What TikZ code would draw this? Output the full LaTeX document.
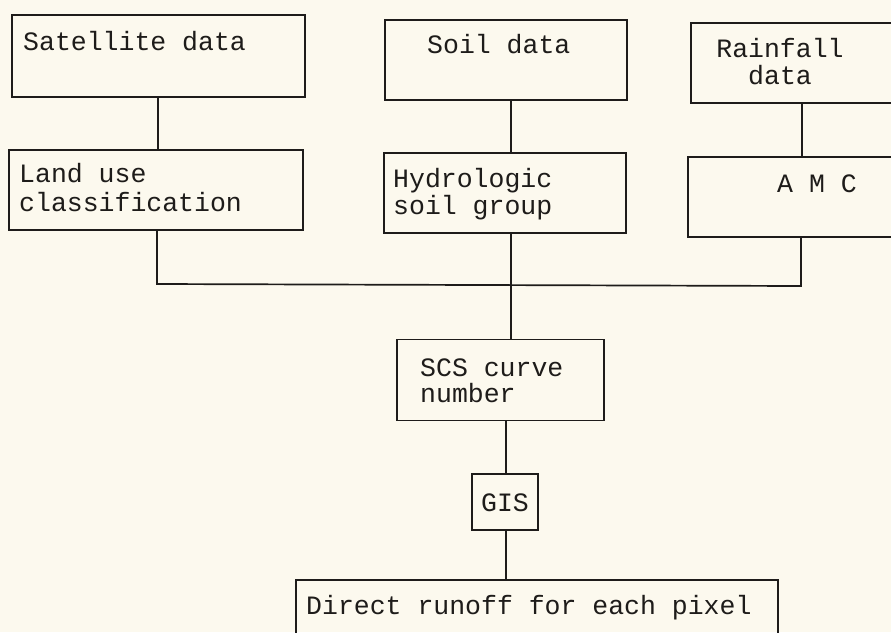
\documentclass[tikz,border=0pt]{standalone}
\usepackage{fontspec}
\setmonofont{Liberation Mono}
\definecolor{paper}{RGB}{252,249,238}
\definecolor{ink}{RGB}{30,28,26}
\begin{document}
\begin{tikzpicture}[x=1pt,y=-1pt,
  box/.style={draw=ink,line width=1.7pt,rectangle,inner sep=0pt},
  txt/.style={font=\fontsize{26.5}{30}\selectfont\ttfamily,text=ink,inner sep=0pt},
  conn/.style={draw=ink,line width=1.7pt}]
\clip (0,0) rectangle (891,632);
\fill[paper] (0,0) rectangle (891,632);
% boxes
\node[box,minimum width=293pt,minimum height=82pt] (sat) at (158.5,56) {};
\node[box,minimum width=242pt,minimum height=80pt] (soil) at (506,60) {};
\node[box,minimum width=230pt,minimum height=80pt] (rain) at (806,63) {};
\node[box,minimum width=294pt,minimum height=80pt] (land) at (156,190) {};
\node[box,minimum width=242pt,minimum height=80pt] (hydro) at (505,193) {};
\node[box,minimum width=232pt,minimum height=80pt] (amc) at (804,197) {};
\node[box,minimum width=207pt,minimum height=81pt] (scs) at (500.5,380) {};
\node[box,minimum width=66pt,minimum height=56pt] (gis) at (505,502) {};
\node[box,minimum width=482pt,minimum height=80pt] (run) at (537,620) {};
% texts
\node[txt,anchor=base west] (satT) at (23,50) {Satellite data};
\node[txt,anchor=base west] (soilT) at (427,53) {Soil data};
\node[txt,anchor=base] (rainT1) at (780,57) {Rainfall};
\node[txt,anchor=base] (rainT2) at (780,84) {data};
\node[txt,anchor=base west] (landT1) at (19,182) {Land use};
\node[txt,anchor=base west] (landT2) at (19,211) {classification};
\node[txt,anchor=base west] (hydT1) at (393,187) {Hydrologic};
\node[txt,anchor=base west] (hydT2) at (393,214) {soil group};
\node[txt,anchor=base west] (amcT) at (777,192) {A M C};
\node[txt,anchor=base west] (scsT1) at (420,376) {SCS curve};
\node[txt,anchor=base west] (scsT2) at (420,402) {number};
\node[txt,anchor=base] (gisT) at (505,511) {GIS};
\node[txt,anchor=base west] (runT) at (306,614) {Direct runoff for each pixel};
% connector coordinates
\coordinate (xL) at (158,0);
\coordinate (xM) at (511,0);
\coordinate (xR) at (802,0);
\coordinate (xB) at (506,0);
\coordinate (busL) at (157,284);
\coordinate (busR) at (801,286);
% connectors
\draw[conn] (sat.south -| xL) -- (land.north -| xL);
\draw[conn] (soil.south -| xM) -- (hydro.north -| xM);
\draw[conn] (rain.south -| xR) -- (amc.north -| xR);
\draw[conn] (land.south -| busL) -- (busL) -- (busR) -- (amc.south -| busR);
\draw[conn] (hydro.south -| xM) -- (scs.north -| xM);
\draw[conn] (scs.south -| xB) -- (gis.north -| xB);
\draw[conn] (gis.south -| xB) -- (run.north -| xB);
\end{tikzpicture}
\end{document}
